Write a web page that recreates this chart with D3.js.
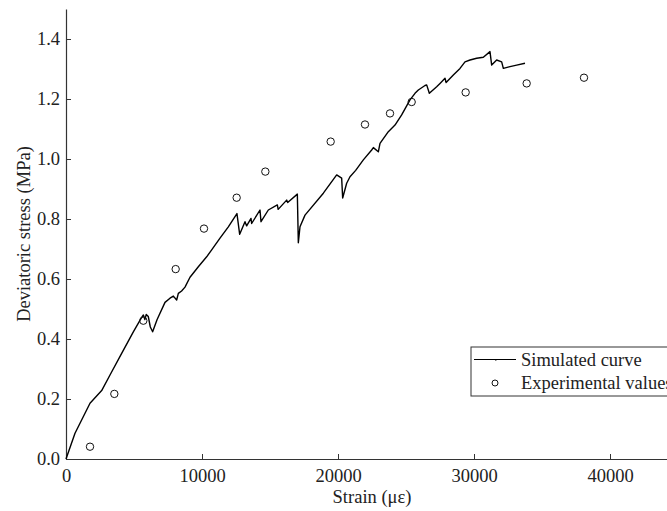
<!DOCTYPE html>
<html>
<head>
<meta charset="utf-8">
<script src="https://cdn.jsdelivr.net/npm/d3@7"></script>
<style>
  body { margin: 0; background: #fff; }
  .serif { font-family: "Liberation Serif", "Times New Roman", serif; }
</style>
</head>
<body>
<svg id="chart" width="667" height="511"></svg>
<script>
// simulated curve
var simStrain = [
  0, 662, 1765, 2623, 3235, 4093, 4951, 5564, 5690, 5800,
  5900, 6050, 6200, 6370, 6700, 7279, 7647, 7892, 8137, 8260,
  8500, 8750, 9118, 9730, 10343, 10711, 11324, 11936, 12570, 12770,
  13162, 13284, 13603, 13650, 14265, 14338, 14877, 15539, 15600, 16225,
  16300, 17010, 17083, 17206, 17574, 18922, 19902, 20270, 20343, 20637,
  20882, 21300, 21863, 22475, 22600, 22966, 23088, 23701, 24191, 24681,
  25294, 25662, 25907, 26397, 26520, 26716, 27255, 27500, 27868, 27950,
  28480, 28971, 29338, 29706, 30196, 30686, 31176, 31299, 31667, 32034,
  32157, 32647, 33137, 33750];
var simStress = [
  0, 0.086, 0.186, 0.228, 0.28, 0.352, 0.424, 0.472, 0.48, 0.465,
  0.482, 0.475, 0.44, 0.424, 0.465, 0.522, 0.536, 0.543, 0.53, 0.552,
  0.56, 0.573, 0.606, 0.641, 0.674, 0.697, 0.736, 0.774, 0.818, 0.749,
  0.791, 0.777, 0.802, 0.785, 0.83, 0.791, 0.83, 0.847, 0.832, 0.863,
  0.855, 0.883, 0.721, 0.774, 0.813, 0.886, 0.947, 0.936, 0.87, 0.919,
  0.941, 0.962, 0.997, 1.03, 1.038, 1.024, 1.052, 1.091, 1.113, 1.147,
  1.197, 1.219, 1.23, 1.245, 1.247, 1.219, 1.241, 1.252, 1.269, 1.255,
  1.28, 1.302, 1.324, 1.33, 1.336, 1.339, 1.358, 1.313, 1.33, 1.324,
  1.302, 1.308, 1.313, 1.319];

// experimental values
var expStrain = [1765, 3554, 5686, 8064, 10147, 12549, 14657, 19461, 21985, 23824, 25417, 29387, 33873, 38088];
var expStress = [0.041, 0.217, 0.461, 0.633, 0.768, 0.871, 0.958, 1.058, 1.115, 1.152, 1.19, 1.222, 1.252, 1.271];

var xTicks = [0, 10000, 20000, 30000, 40000];
var yTicks = [0, 0.2, 0.4, 0.6, 0.8, 1.0, 1.2, 1.4];

var seriesNames = ["Simulated curve", "Experimental values"];

var simData = simStrain.map(function(s, i) { return {x: s, y: simStress[i]}; });
var expData = expStrain.map(function(s, i) { return {x: s, y: expStress[i]}; });

var svg = d3.select("#chart");
var margin = {top: 9, left: 66, bottom: 52};
var height = +svg.attr("height");
var fontSize = 18.5;

var x = d3.scaleLinear()
    .domain([0, 45000])
    .range([margin.left, margin.left + 612]);

var y = d3.scaleLinear()
    .domain([0, 1.5])
    .range([height - margin.bottom, margin.top]);

var axisColor = "#333";

// ticks point inward on both axes
svg.append("g")
    .attr("transform", "translate(0," + (height - margin.bottom) + ")")
    .call(d3.axisBottom(x).tickValues(xTicks).tickSize(-5).tickSizeOuter(0).tickPadding(9.5).tickFormat(d3.format("d")));

svg.append("g")
    .attr("transform", "translate(" + margin.left + ",0)")
    .call(d3.axisLeft(y).tickValues(yTicks).tickSize(-5).tickSizeOuter(0).tickPadding(6).tickFormat(d3.format(".1f")));

svg.selectAll("g").attr("font-family", null).attr("font-size", fontSize);
svg.selectAll(".domain").attr("stroke", axisColor).attr("stroke-width", 1.2);
svg.selectAll(".tick line").attr("stroke", axisColor);
svg.selectAll(".tick text").attr("class", "serif").attr("fill", "#222");

svg.append("text")
    .attr("class", "serif")
    .attr("x", (x(0) + x(45000)) / 2)
    .attr("y", 503)
    .attr("text-anchor", "middle")
    .attr("fill", "#222")
    .attr("font-size", fontSize)
    .text("Strain (\u03bc\u03b5)");

svg.append("text")
    .attr("class", "serif")
    .attr("transform", "translate(30," + ((y(0) + y(1.5)) / 2) + ") rotate(-90)")
    .attr("text-anchor", "middle")
    .attr("fill", "#222")
    .attr("font-size", fontSize)
    .text("Deviatoric stress (MPa)");

var line = d3.line()
    .x(function(d) { return x(d.x); })
    .y(function(d) { return y(d.y); });

svg.append("path")
    .datum(simData)
    .attr("fill", "none")
    .attr("stroke", "#000")
    .attr("stroke-width", 1.4)
    .attr("stroke-linejoin", "round")
    .attr("d", line);

svg.selectAll(".exp")
    .data(expData)
    .enter().append("circle")
    .attr("class", "exp")
    .attr("cx", function(d) { return x(d.x); })
    .attr("cy", function(d) { return y(d.y); })
    .attr("r", 3.7)
    .attr("fill", "none")
    .attr("stroke", "#111")
    .attr("stroke-width", 1);

// legend
var legend = svg.append("g").attr("transform", "translate(471,347)");
legend.append("rect")
    .attr("width", 230)
    .attr("height", 49)
    .attr("fill", "#fff")
    .attr("stroke", axisColor)
    .attr("stroke-width", 1);
legend.append("line")
    .attr("x1", 3).attr("x2", 45)
    .attr("y1", 12.5).attr("y2", 12.5)
    .attr("stroke", "#000").attr("stroke-width", 1.2);
legend.append("rect")
    .attr("x", 24).attr("y", 12).attr("width", 1.5).attr("height", 1.5)
    .attr("fill", "#000");
legend.append("circle")
    .attr("cx", 24).attr("cy", 36)
    .attr("r", 3)
    .attr("fill", "none")
    .attr("stroke", "#111");
legend.selectAll(".ltxt")
    .data(seriesNames)
    .enter().append("text")
    .attr("class", "serif")
    .attr("x", 50)
    .attr("y", function(d, i) { return 19 + i * 23; })
    .attr("fill", "#222")
    .attr("font-size", fontSize)
    .text(function(d) { return d; });
</script>
</body>
</html>
